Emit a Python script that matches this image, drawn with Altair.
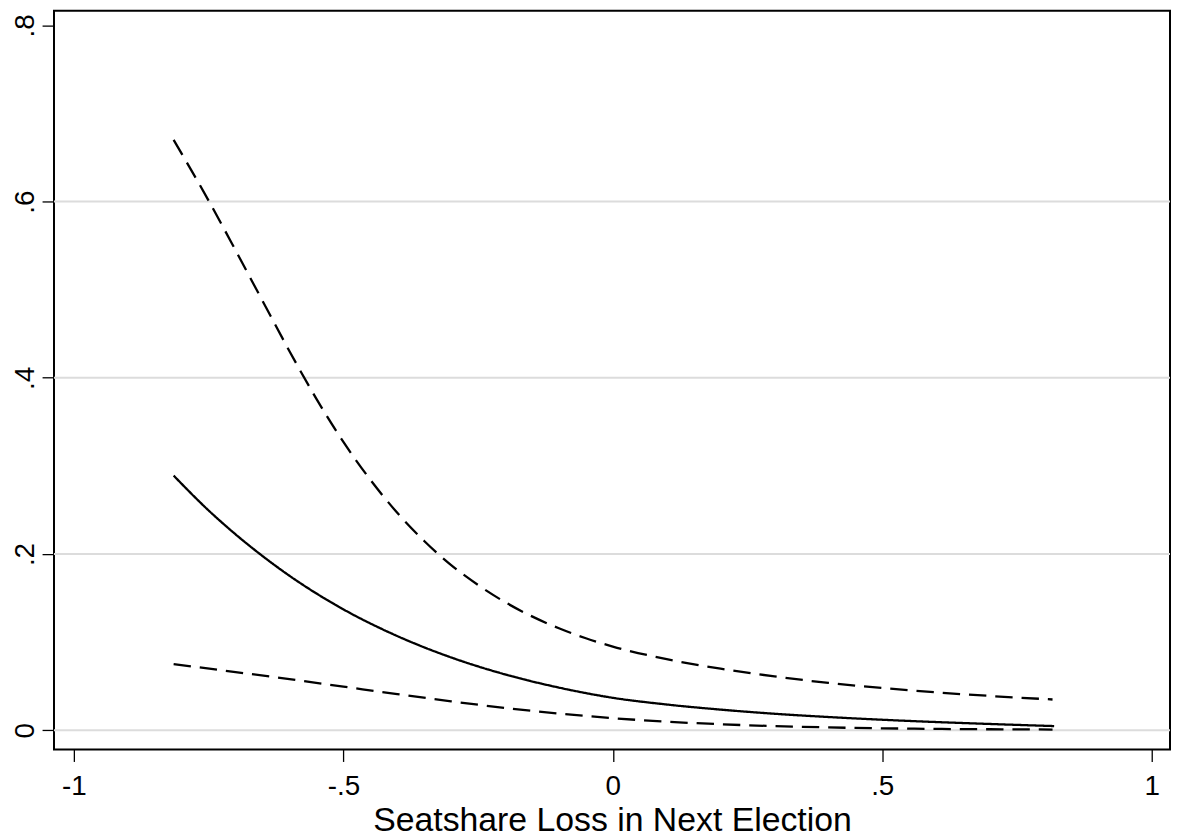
import altair as alt
import pandas as pd

# ---- data ----
solid_x = [-0.815, -0.75, -0.7, -0.65, -0.6, -0.5, -0.4, -0.3, -0.2, -0.1, 0.0,
           0.1, 0.2, 0.3, 0.4, 0.5, 0.6, 0.7, 0.819]
solid_y = [0.289, 0.2494, 0.2223, 0.1977, 0.1753, 0.1372, 0.1069, 0.0826, 0.0634, 0.0484, 0.0368,
           0.0292, 0.0234, 0.0187, 0.0150, 0.0119, 0.0093, 0.0071, 0.0047]

upper_x = [-0.815, -0.75, -0.7, -0.65, -0.6, -0.55, -0.5, -0.45, -0.4, -0.35, -0.3,
           -0.25, -0.2, -0.15, -0.1, -0.05, 0.0, 0.1, 0.2, 0.3, 0.4, 0.5, 0.6, 0.7, 0.816]
upper_y = [0.670, 0.601, 0.5446, 0.4873, 0.4302, 0.3761, 0.3272, 0.2843, 0.2468, 0.2148,
           0.1875, 0.1648, 0.1454, 0.1292, 0.1157, 0.1044, 0.0950, 0.0807, 0.0698, 0.0611,
           0.0537, 0.0479, 0.0430, 0.0389, 0.0349]

lower_x = [-0.815, -0.7, -0.6, -0.5, -0.4, -0.3, -0.2, -0.1, 0.0, 0.1, 0.2, 0.3, 0.4,
           0.5, 0.6, 0.7, 0.816]
lower_y = [0.075, 0.066, 0.058, 0.0495, 0.041, 0.0328, 0.0253, 0.0189, 0.0137, 0.0097,
           0.0068, 0.0047, 0.0032, 0.0022, 0.0015, 0.0011, 0.0008]

x_ticks = [-1, -0.5, 0, 0.5, 1]
x_tick_labels = ["-1", "-.5", "0", ".5", "1"]
y_ticks = [0, 0.2, 0.4, 0.6, 0.8]
y_tick_labels = ["0", ".2", ".4", ".6", ".8"]
grid_values = [0, 0.2, 0.4, 0.6]
x_title = "Seatshare Loss in Next Election"


def label_expr(vals, labels):
    expr = "''"
    for v, l in reversed(list(zip(vals, labels))):
        expr = f"(abs(datum.value - ({v})) < 1e-9 ? '{l}' : {expr})"
    return expr


rows = []
for name, xs, ys in (("fit", solid_x, solid_y), ("upper", upper_x, upper_y),
                     ("lower", lower_x, lower_y)):
    for i, (xv, yv) in enumerate(zip(xs, ys)):
        rows.append({"series": name, "x": xv, "y": yv, "order": i})
df = pd.DataFrame(rows)
grid_df = pd.DataFrame({"g": grid_values})

FONT = "Liberation Sans"
xscale = alt.Scale(domain=[-1.037, 1.034], nice=False, zero=False)
yscale = alt.Scale(domain=[-0.0219, 0.8166], nice=False, zero=False)

xaxis = alt.Axis(
    values=x_ticks, labelExpr=label_expr(x_ticks, x_tick_labels), title=x_title,
    domain=False, grid=False, ticks=True, tickSize=12, tickWidth=1.3, tickColor="black",
    labelFont=FONT, labelFontSize=28, labelColor="black", labelBaseline="alphabetic",
    labelPadding=33, labelFlush=False, labelOverlap=False, labelBound=False,
    titleFont=FONT, titleFontSize=34, titleFontWeight="normal", titleColor="black",
    titleBaseline="alphabetic", titleY=81.3, titlePadding=0,
)
yaxis = alt.Axis(
    values=y_ticks, labelExpr=label_expr(y_ticks, y_tick_labels), title=None,
    domain=False, grid=False, ticks=True, tickSize=12, tickWidth=1.3, tickColor="black",
    labelFont=FONT, labelFontSize=28, labelColor="black", labelAngle=270,
    labelAlign="center", labelBaseline="alphabetic", labelPadding=8.5,
    labelFlush=False, labelOverlap=False, labelBound=False,
)

grid = alt.Chart(grid_df).mark_rule(color="#dcdcdc", strokeWidth=2).encode(
    y=alt.Y("g:Q", scale=yscale, axis=yaxis)
)

lines = alt.Chart(df).mark_line(color="black", strokeWidth=2.3, interpolate="monotone").encode(
    x=alt.X("x:Q", scale=xscale, axis=xaxis),
    y=alt.Y("y:Q", scale=yscale, axis=yaxis),
    detail="series:N",
    order="order:Q",
    strokeDash=alt.StrokeDash(
        "series:N",
        scale=alt.Scale(domain=["fit", "upper", "lower"],
                        range=[[1, 0], [17.5, 9], [17.5, 9]]),
        legend=None,
    ),
)

chart = alt.layer(grid, lines).properties(
    width=1123.4,
    height=743.7,
    autosize=alt.AutoSizeParams(type="none"),
    padding={"left": 46.3, "top": 0, "right": 1, "bottom": 86},
    background="white",
).configure_view(stroke="black", strokeWidth=2)

chart.save("out.html", embed_options={"renderer": "svg", "actions": False})
